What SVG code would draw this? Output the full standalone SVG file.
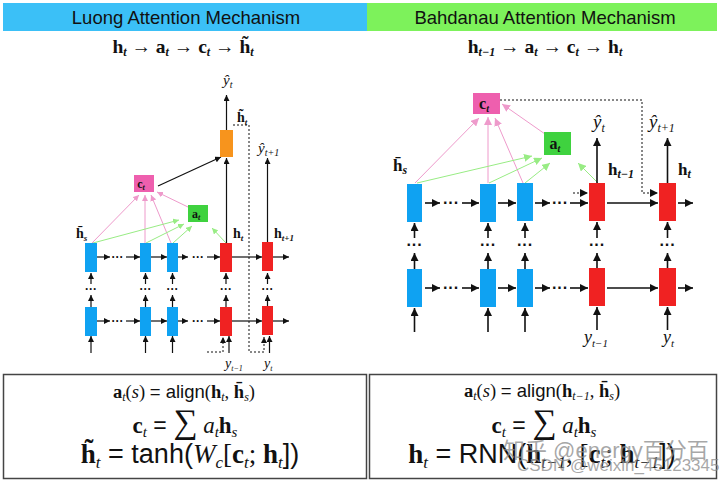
<svg xmlns="http://www.w3.org/2000/svg" width="720" height="482" viewBox="0 0 720 482">
<style>
.hdr{font-family:"Liberation Sans",Arial,sans-serif;font-size:18.5px;fill:#111}
.m{font-family:"Liberation Serif","Times New Roman",serif;fill:#111}
.b{font-weight:bold}
.i{font-style:italic}
.s{font-family:"Liberation Sans",Arial,sans-serif}
.dots{font-family:"Liberation Sans",Arial,sans-serif;font-weight:bold;fill:#111;text-anchor:middle}
.blk{stroke:#111;fill:none}
.L .blk{stroke-width:1.2}
.R .blk{stroke-width:1.6}
.dot{stroke:#111;fill:none;stroke-dasharray:2 2}
.pk{stroke:#EE9ACB;fill:none}
.gr{stroke:#98EC84;fill:none}
.blue{fill:#0FA2F2}
.red{fill:#F02222}
.org{fill:#F7941D}
.pink{fill:#EE5FAE}
.grn{fill:#3FD23F}
.wm{font-family:"Liberation Sans","Noto Sans CJK SC",sans-serif;fill:#8a8a8a;fill-opacity:0.75}
</style>
<defs>
<marker id="ak" viewBox="0 0 10 10" refX="10" refY="5" markerWidth="6" markerHeight="6" markerUnits="userSpaceOnUse" orient="auto"><path d="M0,0 L10,5 L0,10 z" fill="#111"/></marker>
<marker id="akR" viewBox="0 0 10 10" refX="10" refY="5" markerWidth="8" markerHeight="8" markerUnits="userSpaceOnUse" orient="auto"><path d="M0,0 L10,5 L0,10 z" fill="#111"/></marker>
<marker id="ap" viewBox="0 0 10 10" refX="10" refY="5" markerWidth="6" markerHeight="6" markerUnits="userSpaceOnUse" orient="auto"><path d="M0,0 L10,5 L0,10 z" fill="#EE9ACB"/></marker>
<marker id="ag" viewBox="0 0 10 10" refX="10" refY="5" markerWidth="6" markerHeight="6" markerUnits="userSpaceOnUse" orient="auto"><path d="M0,0 L10,5 L0,10 z" fill="#98EC84"/></marker>
<marker id="apR" viewBox="0 0 10 10" refX="10" refY="5" markerWidth="8" markerHeight="8" markerUnits="userSpaceOnUse" orient="auto"><path d="M0,0 L10,5 L0,10 z" fill="#EE9ACB"/></marker>
<marker id="agR" viewBox="0 0 10 10" refX="10" refY="5" markerWidth="8" markerHeight="8" markerUnits="userSpaceOnUse" orient="auto"><path d="M0,0 L10,5 L0,10 z" fill="#98EC84"/></marker>
</defs>
<rect width="720" height="482" fill="#fff"/>

<!-- headers -->
<g id="header-luong">
<rect x="3" y="3" width="364" height="28" fill="#3BC0F7"/>
<text x="186" y="24" class="hdr" text-anchor="middle">Luong Attention Mechanism</text>
<text x="183" y="53" class="m b" font-size="19.5" text-anchor="middle">h<tspan class="i" font-size="12" dy="3">t</tspan><tspan dy="-3"> → a</tspan><tspan class="i" font-size="12" dy="3">t</tspan><tspan dy="-3"> → c</tspan><tspan class="i" font-size="12" dy="3">t</tspan><tspan dy="-3"> → h̃</tspan><tspan class="i" font-size="12" dy="3">t</tspan></text>
</g>
<g id="header-bahdanau">
<rect x="367" y="3" width="350" height="28" fill="#7DF25B"/>
<text x="545" y="24" class="hdr" text-anchor="middle">Bahdanau Attention Mechanism</text>
<text x="545" y="53" class="m b" font-size="19.5" text-anchor="middle">h<tspan class="i" font-size="12" dy="3">t−1</tspan><tspan dy="-3"> → a</tspan><tspan class="i" font-size="12" dy="3">t</tspan><tspan dy="-3"> → c</tspan><tspan class="i" font-size="12" dy="3">t</tspan><tspan dy="-3"> → h</tspan><tspan class="i" font-size="12" dy="3">t</tspan></text>
</g>

<!-- ================= LEFT (Luong) ================= -->
<g class="L">
<g id="connectors-luong">
<line class="pk" x1="92" y1="243" x2="139" y2="195" marker-end="url(#ap)"/>
<line class="pk" x1="145" y1="243" x2="145" y2="195" marker-end="url(#ap)"/>
<line class="pk" x1="171" y1="243" x2="151" y2="195" marker-end="url(#ap)"/>
<line class="pk" x1="188" y1="207" x2="157" y2="192" marker-end="url(#ap)"/>
<line class="gr" x1="93" y1="243" x2="179" y2="220" marker-end="url(#ag)"/>
<line class="gr" x1="146" y1="243" x2="184" y2="224" marker-end="url(#ag)"/>
<line class="gr" x1="173" y1="243" x2="192" y2="226" marker-end="url(#ag)"/>
<line class="gr" x1="226" y1="243" x2="212" y2="228" marker-end="url(#ag)"/>
<line class="blk" x1="158" y1="186" x2="221" y2="157" marker-end="url(#ak)"/>
<line class="blk" x1="226.5" y1="243" x2="226.5" y2="158" marker-end="url(#ak)"/>
<line class="blk" x1="226.5" y1="130" x2="226.5" y2="95" marker-end="url(#ak)"/>
<line class="blk" x1="267.5" y1="242" x2="267.5" y2="158" marker-end="url(#ak)"/>
<path class="dot" d="M233,125 H249 V352 H264 V337" marker-end="url(#ak)"/>
<path class="dot" d="M207,352 H223 V337" marker-end="url(#ak)"/>
<line class="blk" x1="97" y1="257" x2="110" y2="257" marker-end="url(#ak)"/>
<line class="blk" x1="126" y1="257" x2="140" y2="257" marker-end="url(#ak)"/>
<line class="blk" x1="151" y1="257" x2="167" y2="257" marker-end="url(#ak)"/>
<line class="blk" x1="178" y1="257" x2="188" y2="257" marker-end="url(#ak)"/>
<line class="blk" x1="207" y1="257" x2="220" y2="257" marker-end="url(#ak)"/>
<line class="blk" x1="232" y1="257" x2="262" y2="257" marker-end="url(#ak)"/>
<line class="blk" x1="273" y1="257" x2="289" y2="257" marker-end="url(#ak)"/>
<line class="blk" x1="97" y1="321" x2="110" y2="321" marker-end="url(#ak)"/>
<line class="blk" x1="126" y1="321" x2="140" y2="321" marker-end="url(#ak)"/>
<line class="blk" x1="151" y1="321" x2="167" y2="321" marker-end="url(#ak)"/>
<line class="blk" x1="178" y1="321" x2="188" y2="321" marker-end="url(#ak)"/>
<line class="blk" x1="207" y1="321" x2="220" y2="321" marker-end="url(#ak)"/>
<line class="blk" x1="232" y1="321" x2="262" y2="321" marker-end="url(#ak)"/>
<line class="blk" x1="273" y1="321" x2="289" y2="321" marker-end="url(#ak)"/>
<line class="blk" x1="91" y1="307" x2="91" y2="295" marker-end="url(#ak)"/><line class="blk" x1="91" y1="284" x2="91" y2="273" marker-end="url(#ak)"/>
<line class="blk" x1="145.5" y1="307" x2="145.5" y2="295" marker-end="url(#ak)"/><line class="blk" x1="145.5" y1="284" x2="145.5" y2="273" marker-end="url(#ak)"/>
<line class="blk" x1="172.5" y1="307" x2="172.5" y2="295" marker-end="url(#ak)"/><line class="blk" x1="172.5" y1="284" x2="172.5" y2="273" marker-end="url(#ak)"/>
<line class="blk" x1="226" y1="307" x2="226" y2="295" marker-end="url(#ak)"/><line class="blk" x1="226" y1="284" x2="226" y2="273" marker-end="url(#ak)"/>
<line class="blk" x1="267.5" y1="307" x2="267.5" y2="295" marker-end="url(#ak)"/><line class="blk" x1="267.5" y1="284" x2="267.5" y2="273" marker-end="url(#ak)"/>
<line class="blk" x1="91" y1="353" x2="91" y2="336" marker-end="url(#ak)"/>
<line class="blk" x1="145.5" y1="353" x2="145.5" y2="336" marker-end="url(#ak)"/>
<line class="blk" x1="172.5" y1="353" x2="172.5" y2="336" marker-end="url(#ak)"/>
<line class="blk" x1="229" y1="353" x2="229" y2="336" marker-end="url(#ak)"/>
<line class="blk" x1="269.5" y1="353" x2="269.5" y2="336" marker-end="url(#ak)"/>
<text class="dots" font-size="12" x="117.5" y="261">···</text>
<text class="dots" font-size="12" x="198" y="261">···</text>
<text class="dots" font-size="12" x="117.5" y="325">···</text>
<text class="dots" font-size="12" x="198" y="325">···</text>
<text class="dots" font-size="12" x="91" y="293">···</text>
<text class="dots" font-size="12" x="145.5" y="293">···</text>
<text class="dots" font-size="12" x="172.5" y="293">···</text>
<text class="dots" font-size="12" x="226" y="293">···</text>
<text class="dots" font-size="12" x="267.5" y="293">···</text>
</g>
<g id="L-enc1-top"><rect class="blue" x="85" y="243" width="12" height="29"/></g>
<g id="L-enc2-top"><rect class="blue" x="140" y="243" width="11" height="29"/></g>
<g id="L-enc3-top"><rect class="blue" x="167" y="243" width="11" height="29"/></g>
<g id="L-dec1-top"><rect class="red" x="220" y="243" width="12" height="29"/></g>
<g id="L-dec2-top"><rect class="red" x="262" y="242" width="11" height="29"/></g>
<g id="L-enc1-bot"><rect class="blue" x="85" y="307" width="12" height="29"/></g>
<g id="L-enc2-bot"><rect class="blue" x="140" y="307" width="11" height="29"/></g>
<g id="L-enc3-bot"><rect class="blue" x="167" y="307" width="11" height="29"/></g>
<g id="L-dec1-bot"><rect class="red" x="220" y="307" width="12" height="29"/></g>
<g id="L-dec2-bot"><rect class="red" x="262" y="306" width="11" height="29"/></g>
<g id="L-ht-tilde"><rect class="org" x="220" y="130" width="13" height="27"/></g>
<g id="L-ct"><rect class="pink" x="134" y="175" width="20" height="17"/>
<text class="m b" font-size="12" x="141" y="188" text-anchor="middle">c<tspan class="i" font-size="8" dy="2">t</tspan></text></g>
<g id="L-at"><rect class="grn" x="188" y="205" width="20" height="17"/>
<text class="m b" font-size="12" x="196" y="218" text-anchor="middle">a<tspan class="i" font-size="8" dy="2">t</tspan></text></g>
<text class="m i" font-size="15" x="223" y="85">ŷ<tspan font-size="10" dy="3">t</tspan></text>
<text class="m b" font-size="14" x="237" y="122">h̃<tspan class="i" font-size="9" dy="3">t</tspan></text>
<text class="m i" font-size="15" x="258" y="153">ŷ<tspan font-size="10" dy="3">t+1</tspan></text>
<text class="m b" font-size="14" x="76" y="238">h̄<tspan class="i" font-size="9" dy="3">s</tspan></text>
<text class="m b" font-size="14" x="233" y="238">h<tspan class="i" font-size="9" dy="3">t</tspan></text>
<text class="m b" font-size="14" x="274" y="238">h<tspan class="i" font-size="9" dy="3">t+1</tspan></text>
<text class="m i" font-size="14" x="225" y="368">y<tspan font-size="8" dy="3">t−1</tspan></text>
<text class="m i" font-size="14" x="264" y="368">y<tspan font-size="8" dy="3">t</tspan></text>
</g>

<!-- ================= RIGHT (Bahdanau) ================= -->
<g class="R">
<g id="connectors-bahdanau">
<line class="pk" x1="415" y1="183" x2="479" y2="118" marker-end="url(#apR)"/>
<line class="pk" x1="488" y1="183" x2="488" y2="117" marker-end="url(#apR)"/>
<line class="pk" x1="523" y1="183" x2="495" y2="118" marker-end="url(#apR)"/>
<line class="pk" x1="545" y1="134" x2="502" y2="104" marker-end="url(#apR)"/>
<line class="gr" x1="417" y1="183" x2="532" y2="156" marker-end="url(#agR)"/>
<line class="gr" x1="489" y1="183" x2="542" y2="158" marker-end="url(#agR)"/>
<line class="gr" x1="525" y1="183" x2="550" y2="163" marker-end="url(#agR)"/>
<line class="gr" x1="598" y1="183" x2="578" y2="163" marker-end="url(#agR)"/>
<path class="dot" d="M500,100 H642 V193 H658" marker-end="url(#akR)"/>
<line class="dot" x1="573" y1="193" x2="588" y2="193" marker-end="url(#akR)"/>
<line class="blk" x1="597" y1="183" x2="597" y2="138" marker-end="url(#akR)"/>
<line class="blk" x1="667.5" y1="183" x2="667.5" y2="138" marker-end="url(#akR)"/>
<line class="blk" x1="425" y1="203" x2="440" y2="203" marker-end="url(#akR)"/>
<line class="blk" x1="462" y1="203" x2="479" y2="203" marker-end="url(#akR)"/>
<line class="blk" x1="498" y1="203" x2="516" y2="203" marker-end="url(#akR)"/>
<line class="blk" x1="535" y1="203" x2="550" y2="203" marker-end="url(#akR)"/>
<line class="blk" x1="570" y1="203" x2="588" y2="203" marker-end="url(#akR)"/>
<line class="blk" x1="607" y1="203" x2="658" y2="203" marker-end="url(#akR)"/>
<line class="blk" x1="678" y1="203" x2="693" y2="203" marker-end="url(#akR)"/>
<line class="blk" x1="425" y1="288" x2="440" y2="288" marker-end="url(#akR)"/>
<line class="blk" x1="462" y1="288" x2="479" y2="288" marker-end="url(#akR)"/>
<line class="blk" x1="498" y1="288" x2="516" y2="288" marker-end="url(#akR)"/>
<line class="blk" x1="535" y1="288" x2="550" y2="288" marker-end="url(#akR)"/>
<line class="blk" x1="570" y1="288" x2="588" y2="288" marker-end="url(#akR)"/>
<line class="blk" x1="607" y1="288" x2="658" y2="288" marker-end="url(#akR)"/>
<line class="blk" x1="678" y1="288" x2="693" y2="288" marker-end="url(#akR)"/>
<line class="blk" x1="414.5" y1="269" x2="414.5" y2="253" marker-end="url(#akR)"/><line class="blk" x1="414.5" y1="238" x2="414.5" y2="223" marker-end="url(#akR)"/>
<line class="blk" x1="488" y1="269" x2="488" y2="253" marker-end="url(#akR)"/><line class="blk" x1="488" y1="238" x2="488" y2="223" marker-end="url(#akR)"/>
<line class="blk" x1="525" y1="269" x2="525" y2="253" marker-end="url(#akR)"/><line class="blk" x1="525" y1="238" x2="525" y2="223" marker-end="url(#akR)"/>
<line class="blk" x1="597" y1="268" x2="597" y2="253" marker-end="url(#akR)"/><line class="blk" x1="597" y1="238" x2="597" y2="222" marker-end="url(#akR)"/>
<line class="blk" x1="667.5" y1="268" x2="667.5" y2="253" marker-end="url(#akR)"/><line class="blk" x1="667.5" y1="238" x2="667.5" y2="222" marker-end="url(#akR)"/>
<line class="blk" x1="414.5" y1="332" x2="414.5" y2="308" marker-end="url(#akR)"/>
<line class="blk" x1="488" y1="332" x2="488" y2="308" marker-end="url(#akR)"/>
<line class="blk" x1="525" y1="332" x2="525" y2="308" marker-end="url(#akR)"/>
<line class="blk" x1="597" y1="330" x2="597" y2="307" marker-end="url(#akR)"/>
<line class="blk" x1="667.5" y1="330" x2="667.5" y2="307" marker-end="url(#akR)"/>
<text class="dots" font-size="16" x="451" y="208">···</text>
<text class="dots" font-size="16" x="560" y="208">···</text>
<text class="dots" font-size="16" x="451" y="293">···</text>
<text class="dots" font-size="16" x="560" y="293">···</text>
<text class="dots" font-size="16" x="414.5" y="250">···</text>
<text class="dots" font-size="16" x="488" y="250">···</text>
<text class="dots" font-size="16" x="525" y="250">···</text>
<text class="dots" font-size="16" x="597" y="250">···</text>
<text class="dots" font-size="16" x="667.5" y="250">···</text>
</g>
<g id="R-enc1-top"><rect class="blue" x="407" y="184" width="15" height="38"/></g>
<g id="R-enc2-top"><rect class="blue" x="480" y="184" width="16" height="38"/></g>
<g id="R-enc3-top"><rect class="blue" x="517" y="183" width="16" height="38"/></g>
<g id="R-dec1-top"><rect class="red" x="589" y="183" width="16" height="38"/></g>
<g id="R-dec2-top"><rect class="red" x="659" y="183" width="17" height="38"/></g>
<g id="R-enc1-bot"><rect class="blue" x="407" y="269" width="15" height="38"/></g>
<g id="R-enc2-bot"><rect class="blue" x="480" y="269" width="16" height="38"/></g>
<g id="R-enc3-bot"><rect class="blue" x="517" y="269" width="16" height="38"/></g>
<g id="R-dec1-bot"><rect class="red" x="589" y="268" width="16" height="38"/></g>
<g id="R-dec2-bot"><rect class="red" x="659" y="268" width="17" height="38"/></g>
<g id="R-ct"><rect class="pink" x="473" y="93" width="27" height="21"/>
<text class="m b" font-size="16" x="484" y="109" text-anchor="middle">c<tspan class="i" font-size="10" dy="3">t</tspan></text></g>
<g id="R-at"><rect class="grn" x="544" y="132" width="27" height="23"/>
<text class="m b" font-size="16" x="555" y="149" text-anchor="middle">a<tspan class="i" font-size="10" dy="3">t</tspan></text></g>
<text class="m i" font-size="19" x="593" y="128">ŷ<tspan font-size="12" dy="4">t</tspan></text>
<text class="m i" font-size="19" x="649" y="128">ŷ<tspan font-size="12" dy="4">t+1</tspan></text>
<text class="m b" font-size="17" x="393" y="171">h̄<tspan class="i" font-size="12" dy="3">s</tspan></text>
<text class="m b" font-size="17" x="608" y="175">h<tspan class="i" font-size="12" dy="3">t−1</tspan></text>
<text class="m b" font-size="17" x="678" y="175">h<tspan class="i" font-size="12" dy="3">t</tspan></text>
<text class="m i" font-size="18" x="584" y="343">y<tspan font-size="11" dy="4">t−1</tspan></text>
<text class="m i" font-size="18" x="663" y="343">y<tspan font-size="11" dy="4">t</tspan></text>
</g>

<!-- ================= FORMULAS ================= -->
<g id="formula-luong">
<rect x="3.5" y="374.5" width="363" height="104" fill="none" stroke="#444" stroke-width="1.5"/>
<text class="m" font-size="18.5" x="184" y="398" text-anchor="middle"><tspan class="b">a</tspan><tspan class="i" font-size="12" dy="3">t</tspan><tspan dy="-3">(</tspan><tspan class="i">s</tspan><tspan>) </tspan><tspan class="s">= align</tspan><tspan>(</tspan><tspan class="b">h</tspan><tspan class="i" font-size="12" dy="3">t</tspan><tspan dy="-3">, </tspan><tspan class="b">h̄</tspan><tspan class="i" font-size="12" dy="3">s</tspan><tspan dy="-3">)</tspan></text>
<text class="m" font-size="23" x="185" y="433" text-anchor="middle"><tspan class="b">c</tspan><tspan class="i" font-size="15" dy="4">t</tspan><tspan class="s" dy="-4"> = </tspan><tspan font-size="34">∑</tspan><tspan class="i"> a</tspan><tspan class="i" font-size="15" dy="4">t</tspan><tspan class="b" dy="-4">h</tspan><tspan class="i" font-size="15" dy="4">s</tspan></text>
<text class="m" font-size="27" x="190" y="463" text-anchor="middle"><tspan class="b">h̃</tspan><tspan class="i" font-size="17" dy="5">t</tspan><tspan class="s" dy="-5"> = tanh(</tspan><tspan class="i">W</tspan><tspan class="i" font-size="17" dy="5">c</tspan><tspan dy="-5">[</tspan><tspan class="b">c</tspan><tspan class="i" font-size="17" dy="5">t</tspan><tspan dy="-5">; </tspan><tspan class="b">h</tspan><tspan class="i" font-size="17" dy="5">t</tspan><tspan class="s" dy="-5">])</tspan></text>
</g>
<g id="formula-bahdanau">
<rect x="369.5" y="374.5" width="347" height="104" fill="none" stroke="#444" stroke-width="1.5"/>
<text class="m" font-size="18.5" x="542" y="397" text-anchor="middle"><tspan class="b">a</tspan><tspan class="i" font-size="12" dy="3">t</tspan><tspan dy="-3">(</tspan><tspan class="i">s</tspan><tspan>) </tspan><tspan class="s">= align</tspan><tspan>(</tspan><tspan class="b">h</tspan><tspan class="i" font-size="12" dy="3">t−1</tspan><tspan dy="-3">, </tspan><tspan class="b">h̄</tspan><tspan class="i" font-size="12" dy="3">s</tspan><tspan dy="-3">)</tspan></text>
<text class="m" font-size="23" x="544" y="433" text-anchor="middle"><tspan class="b">c</tspan><tspan class="i" font-size="15" dy="4">t</tspan><tspan class="s" dy="-4"> = </tspan><tspan font-size="34">∑</tspan><tspan class="i"> a</tspan><tspan class="i" font-size="15" dy="4">t</tspan><tspan class="b" dy="-4">h</tspan><tspan class="i" font-size="15" dy="4">s</tspan></text>
<text class="m" font-size="27" x="542" y="463" text-anchor="middle"><tspan class="b">h</tspan><tspan class="i" font-size="17" dy="5">t</tspan><tspan class="s" dy="-5"> = RNN(</tspan><tspan class="b">h</tspan><tspan class="i" font-size="17" dy="5">t−1</tspan><tspan dy="-5">, [</tspan><tspan class="b">c</tspan><tspan class="i" font-size="17" dy="5">t</tspan><tspan dy="-5">; </tspan><tspan class="b">h</tspan><tspan class="i" font-size="17" dy="5">t−1</tspan><tspan class="s" dy="-5">])</tspan></text>
<text class="wm" font-size="22" x="503" y="458">知乎 @energy百分百</text>
<text class="wm" font-size="17" x="517" y="471">CSDN @weixin_45123345</text>
</g>
</svg>
